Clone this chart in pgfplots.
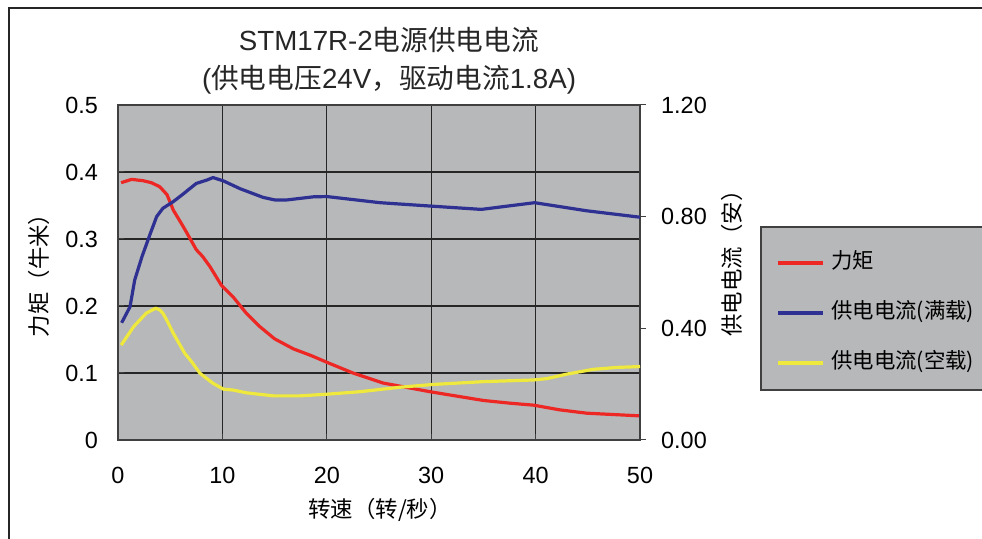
\documentclass[border=0pt]{standalone}
\usepackage{pgfplots}
\pgfplotsset{compat=1.18}
\usepackage{fontspec}
\setmainfont{Liberation Sans}
\newfontfamily\cjk{Noto Sans CJK SC}
\definecolor{plotgray}{RGB}{183,184,186}
\definecolor{tred}{RGB}{237,40,36}
\definecolor{tblue}{RGB}{46,49,146}
\definecolor{tyellow}{RGB}{238,233,60}
\begin{document}
\begin{tikzpicture}[x=1bp,y=1bp]
\useasboundingbox (0,0) rectangle (982,539);
\fill[white] (0,0) rectangle (982,539);
\draw[black!85, line width=1.6bp] (9,0) -- (9,531) -- (982,531);
\filldraw[fill=plotgray, draw=black!75, line width=1.2bp] (761,149) rectangle (984,312);
\begin{axis}[
  at={(118bp,99bp)}, anchor=south west, scale only axis,
  width=522bp, height=335bp,
  xmin=0, xmax=50, ymin=0, ymax=0.5,
  xtick={0,10,20,30,40,50}, ytick={0,0.1,0.2,0.3,0.4,0.5},
  xtick pos=bottom, ytick pos=left,
  grid=major, grid style={black!85, line width=1.1bp},
  axis line style={black!75, line width=1.2bp},
  axis background/.style={fill=plotgray},
  tick style={black!75, line width=1bp}, major tick length=6bp, tick align=inside,
  /pgf/number format/assume math mode=true,
  ticklabel style={font=\fontsize{23.5}{26}\selectfont, inner sep=0pt},
  yticklabel style={xshift=-20bp},
  xticklabel style={yshift=-27bp},
]
\addplot[tred, line width=3.2bp, line join=round] coordinates {
(0.3,0.384) (1.3,0.389) (2.4,0.387) (3.2,0.384) (4.0,0.378) (4.7,0.366) (5.3,0.343)
(6.0,0.325) (6.6,0.309) (7.5,0.284) (8.1,0.274) (8.8,0.259) (9.9,0.231) (11.0,0.214)
(12.3,0.189) (13.6,0.169) (15.0,0.151) (16.8,0.136) (18.5,0.126) (20.0,0.116)
(22.5,0.100) (25.4,0.085) (29.9,0.072) (35.0,0.059) (37.5,0.055) (39.8,0.052)
(42.3,0.045) (44.9,0.040) (50.0,0.036)};
\end{axis}
\begin{axis}[
  at={(118bp,99bp)}, anchor=south west, scale only axis,
  width=522bp, height=335bp,
  xmin=0, xmax=50, ymin=0, ymax=1.2,
  axis x line=none, axis y line*=right,
  ytick={0,0.4,0.8,1.2},
  axis line style={black!75, line width=1.2bp},
  tick style={black!75, line width=1bp}, major tick length=6bp, tick align=outside,
  /pgf/number format/assume math mode=true,
  yticklabel style={font=\fontsize{23.5}{26}\selectfont, inner sep=0pt, xshift=15bp,
    /pgf/number format/.cd, fixed, fixed zerofill, precision=2},
  legend style={at={(1.2605,0.558)}, anchor=north west, draw=none, fill=none,
    inner sep=0pt, row sep=31bp, column sep=6bp,
    font=\cjk\fontsize{21.5}{24}\selectfont,
    nodes={inner sep=0pt, text height=15bp, text depth=4bp}},
  legend cell align=left,
  legend image code/.code={\draw[#1] (0bp,0bp) -- (45bp,0bp);},
]
\addlegendimage{tred, line width=4bp}
\addlegendentry{力矩}
\addplot[tblue, line width=3.2bp, line join=round, forget plot] coordinates {
(0.35,0.42) (1.15,0.477) (1.6,0.573) (2.3,0.657) (3.1,0.74) (3.7,0.80) (4.3,0.83)
(5.3,0.854) (6.1,0.877) (7.5,0.919) (8.5,0.931) (9.1,0.94) (10.1,0.928) (11.7,0.90)
(13.9,0.869) (15.0,0.86) (16.2,0.86) (18.7,0.871) (20.0,0.872) (25.1,0.85)
(29.9,0.838) (34.8,0.826) (39.9,0.85) (44.9,0.821) (50.0,0.798)};
\addlegendimage{tblue, line width=4bp}
\addlegendentry{供电电流(满载)}
\addplot[tyellow, line width=3.2bp, line join=round, forget plot] coordinates {
(0.3,0.34) (1.5,0.406) (2.7,0.454) (3.6,0.472) (4.0,0.466) (4.3,0.454) (4.66,0.43)
(5.3,0.382) (6.4,0.31) (7.06,0.28) (7.85,0.239) (9.1,0.203) (10.1,0.182) (11.0,0.179)
(12.3,0.169) (14.9,0.158) (17.4,0.158) (20.0,0.164) (23.2,0.173) (27.0,0.189)
(30.2,0.199) (35.0,0.209) (39.8,0.215) (41.1,0.22) (43.0,0.236) (45.5,0.253)
(47.8,0.26) (50.0,0.263)};
\addlegendimage{tyellow, line width=4bp}
\addlegendentry{供电电流(空载)}
\end{axis}
\node[font=\fontsize{27.8}{38}\selectfont, align=center, text=black!85] at (389,478)
  {STM17R-2{\cjk 电源供电电流}\\({\cjk 供电电压}24V{\cjk ，驱动电流}1.8A)};
\node[rotate=90, font=\cjk\fontsize{22.5}{24}\selectfont] at (39,269) {力矩（牛米）};
\node[rotate=90, font=\cjk\fontsize{22.5}{24}\selectfont] at (732,281) {供电电流（安）};
\node[font=\cjk\fontsize{22.5}{24}\selectfont] at (380,29) {转速（转/秒）};
\end{tikzpicture}
\end{document}
